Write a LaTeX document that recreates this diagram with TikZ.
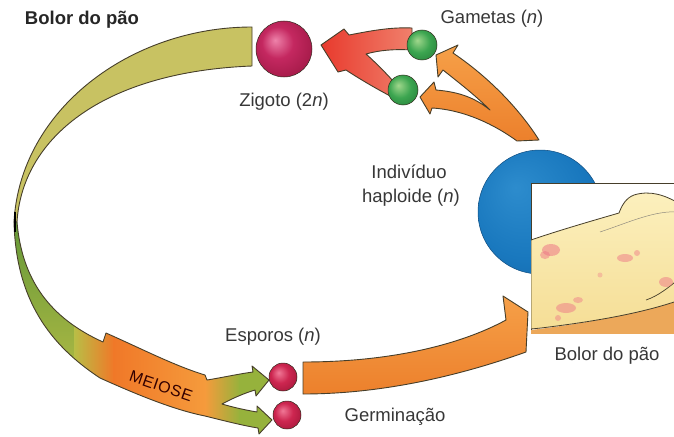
\documentclass[tikz,border=0pt]{standalone}
\usepackage{fontspec}
\setmainfont{Liberation Sans}

% palette
\definecolor{edge}{RGB}{70,62,42}
\definecolor{txt}{RGB}{55,55,55}
\definecolor{khaki}{RGB}{200,194,98}
\definecolor{lgreenA}{RGB}{95,150,55}
\definecolor{lgreenB}{RGB}{185,190,70}
\definecolor{meio}{RGB}{240,120,40}
\definecolor{meioL}{RGB}{245,155,60}
\definecolor{arrgreen}{RGB}{150,178,60}
\definecolor{orangeA}{RGB}{246,160,72}
\definecolor{orangeB}{RGB}{236,128,44}
\definecolor{redA}{RGB}{232,58,45}
\definecolor{redB}{RGB}{240,128,108}
\definecolor{blueA}{RGB}{45,140,205}
\definecolor{blueB}{RGB}{25,120,190}
\definecolor{blueC}{RGB}{18,95,160}
\definecolor{zygA}{RGB}{238,130,170}
\definecolor{zygB}{RGB}{196,40,96}
\definecolor{zygC}{RGB}{150,20,62}
\definecolor{spoA}{RGB}{240,120,150}
\definecolor{spoB}{RGB}{205,38,80}
\definecolor{spoC}{RGB}{150,18,50}
\definecolor{gamA}{RGB}{160,215,140}
\definecolor{gamB}{RGB}{60,165,80}
\definecolor{gamC}{RGB}{30,115,50}
\definecolor{breadA}{RGB}{252,240,190}
\definecolor{breadB}{RGB}{245,222,150}
\definecolor{crust}{RGB}{236,168,90}
\definecolor{mould}{RGB}{238,120,135}

% ball shadings, highlight towards the upper left
\pgfdeclareradialshading{zygball}{\pgfpoint{-8bp}{8bp}}{color(0bp)=(zygA); color(14bp)=(zygB); color(38bp)=(zygC); color(50bp)=(zygC)}
\pgfdeclareradialshading{sporeball}{\pgfpoint{-8bp}{8bp}}{color(0bp)=(spoA); color(16bp)=(spoB); color(40bp)=(spoC); color(50bp)=(spoC)}
\pgfdeclareradialshading{gameteball}{\pgfpoint{-8bp}{8bp}}{color(0bp)=(gamA); color(18bp)=(gamB); color(42bp)=(gamC); color(50bp)=(gamC)}
\pgfdeclareradialshading{blueball}{\pgfpoint{-10bp}{10bp}}{color(0bp)=(blueA); color(24bp)=(blueB); color(46bp)=(blueC); color(50bp)=(blueC)}

% outline of the meiosis ribbon with its two spore arrows
\newcommand\meiosepath{(14,222) .. controls (16,300) and (50,345) .. (100,378)
  .. controls (140,396) and (175,410) .. (205,416)
  .. controls (225,421) and (245,426) .. (258,428)
  -- (259,434) -- (272,420) -- (257,406) -- (257,412)
  .. controls (245,410) and (232,407) .. (222,404)
  .. controls (233,398) and (245,393) .. (255,390)
  -- (256,396) -- (269,380) -- (252,366) -- (253,372)
  .. controls (238,374) and (220,378) .. (207,380) -- (205,375)
  .. controls (175,366) and (140,348) .. (106,333)
  -- (103,342)
  .. controls (50,318) and (22,280) .. (17,222) -- cycle}

\begin{document}
\begin{tikzpicture}[x=1pt,y=-1pt,
  lbl/.style={text=txt,font=\fontsize{18.5}{22}\selectfont,inner sep=0pt},
  heading/.style={text=black!85,font=\fontsize{18.5}{22}\selectfont\bfseries,inner sep=0pt},
  ribbon/.style={draw=edge,line width=0.9pt,line join=round},
  cell/.style={circle,inner sep=0pt,draw=edge!70!black,line width=0.5pt}]
\useasboundingbox (0,0) rectangle (674,436);

% ---- haploid individual (blue sphere) and bread photo ----
\node[cell,minimum size=124pt,shading=blueball,draw=blueC!80!black] (indiv) at (540,212) {};
\node[draw=edge,line width=1pt,fill=white,minimum width=150pt,minimum height=150pt,inner sep=0pt] (photo) at (606,258) {};
\begin{scope}
  \clip (531,183) rectangle (681,333);
  % crust under the slice
  \fill[crust] (531,335) -- (531,330) .. controls (580,324) and (640,314) .. (680,300) -- (680,335) -- cycle;
  % slice
  \shade[top color=breadA,bottom color=breadB,draw=edge,line width=0.8pt]
    (531,240) .. controls (560,230) and (595,220) .. (619,213)
    .. controls (622,205) and (626,198) .. (634,195)
    .. controls (650,190) and (665,195) .. (680,204)
    -- (680,300) .. controls (640,314) and (590,322) .. (541,328) -- (531,329) -- cycle;
  \draw[edge,line width=0.7pt] (646,300) .. controls (658,296) and (668,288) .. (680,278);
  \draw[edge!60,line width=0.5pt] (600,232) .. controls (630,222) and (655,210) .. (680,212);
  % mould patches
  \fill[mould,opacity=.55] (551,250) ellipse (9pt and 6pt);
  \fill[mould,opacity=.5] (545,255) ellipse (5pt and 4pt);
  \fill[mould,opacity=.5] (625,258) ellipse (8pt and 4pt);
  \fill[mould,opacity=.45] (637,253) circle (3pt);
  \fill[mould,opacity=.5] (566,308) ellipse (10pt and 5pt);
  \fill[mould,opacity=.45] (578,300) ellipse (5pt and 3pt);
  \fill[mould,opacity=.45] (558,318) circle (3pt);
  \fill[mould,opacity=.5] (666,282) ellipse (7pt and 5pt);
  \fill[mould,opacity=.35] (600,275) circle (2.5pt);
\end{scope}

% ---- upper khaki arc (zygote back round to the left) ----
\fill[khaki,ribbon] (252,27) .. controls (130,27) and (20,110) .. (14,222)
  -- (17,222) .. controls (22,140) and (100,72) .. (252,66) -- cycle;

% ---- lower arc: meiosis and the two spores ----
\begin{scope}
  \clip \meiosepath;
  \shade[top color=lgreenA,bottom color=lgreenB] (0,210) rectangle (75,400);
  \shade[left color=lgreenB,right color=meio] (74,300) rectangle (114,440);
  \shade[left color=meio,right color=meioL] (113,300) rectangle (206,440);
  \shade[left color=meioL,right color=arrgreen] (205,360) rectangle (240,440);
  \fill[arrgreen] (239,360) rectangle (280,440);
\end{scope}
\draw[ribbon] \meiosepath;
\draw[black,line width=1.6pt] (15,212) -- (15,232);
\node[text=black!80!red,font=\fontsize{16}{18}\selectfont\addfontfeature{LetterSpace=4},rotate=-19,inner sep=0pt] (meiose) at (161,386) {MEIOSE};

% ---- germination arrow towards the bread ----
\shade[top color=orangeA,bottom color=orangeB,ribbon]
  (303,362) .. controls (390,362) and (460,345) .. (506,320)
  -- (503,296) -- (528,312) -- (526,352)
  .. controls (470,372) and (390,394) .. (303,394) -- cycle;

% ---- forked arrow from the individual to the gametes ----
\shade[top color=orangeA,bottom color=orangeB,ribbon]
  (517,141) .. controls (495,125) and (465,110) .. (432,108)
  -- (430,114) -- (420,97) -- (434,82) -- (436,90)
  .. controls (460,92) and (475,98) .. (490,110)
  .. controls (475,95) and (458,82) .. (443,70)
  -- (438,77) -- (436,55) -- (458,45) -- (453,53)
  .. controls (490,78) and (520,110) .. (539,140) -- cycle;

% ---- fertilisation arrows (gametes to zygote) ----
\shade[left color=redA,right color=redB,ribbon]
  (321,45) -- (344,29) -- (349,35)
  .. controls (370,31) and (390,27) .. (412,28)
  -- (412,50) .. controls (395,49) and (380,50) .. (366,54)
  .. controls (375,62) and (385,72) .. (394,82)
  -- (392,97) .. controls (375,88) and (358,78) .. (346,70)
  -- (338,72) -- cycle;

% ---- cells ----
\node[cell,minimum size=56pt,shading=zygball] (zygote) at (284,49) {};
\node[cell,minimum size=30pt,shading=gameteball] (gam1) at (422,45) {};
\node[cell,minimum size=30pt,shading=gameteball] (gam2) at (403,90) {};
\node[cell,minimum size=28pt,shading=sporeball] (spore1) at (283,377) {};
\node[cell,minimum size=28pt,shading=sporeball] (spore2) at (287,415) {};

% ---- labels ----
\node[heading] (title) at (82,20) {Bolor do pão};
\node[lbl] (zygl) at (284,102) {Zigoto (2\textit{n})};
\node[lbl] (gaml) at (492,19) {Gametas (\textit{n})};
\node[lbl] (ind1) at (409,172) {Indivíduo};
\node[lbl] (ind2) at (411,198) {haploide (\textit{n})};
\node[lbl] (sporl) at (273,337) {Esporos (\textit{n})};
\node[lbl] (germl) at (395,417) {Germinação};
\node[lbl] (breadl) at (607,356) {Bolor do pão};
\end{tikzpicture}
\end{document}
